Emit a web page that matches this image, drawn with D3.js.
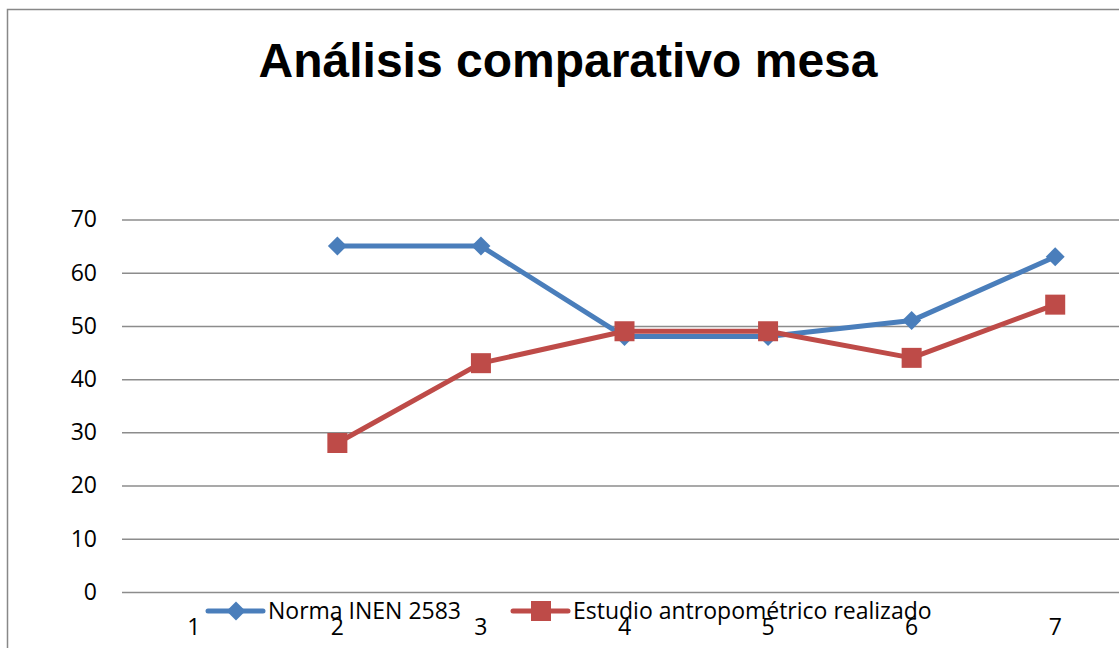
<!DOCTYPE html>
<html><head><meta charset="utf-8">
<script src="https://cdn.jsdelivr.net/npm/d3@7/dist/d3.min.js"></script>
<style>body{margin:0;background:#fff;overflow:hidden}</style>
</head><body>
<svg id="c" width="1119" height="648"></svg>
<script>
const categories = ["1","2","3","4","5","6","7"];
const normaValues = [null, 65, 65, 48, 48, 51, 63];
const estudioValues = [null, 28, 43, 49, 49, 44, 54];
const yTicks = [0,10,20,30,40,50,60,70];
const seriesNames = ["Norma INEN 2583", "Estudio antropométrico realizado"];
const title = "Análisis comparativo mesa";

(function(){
const svg = d3.select("#c");
const font = "'Open Sans', 'Noto Sans', sans-serif";
const fs = 23;
svg.append("rect").attr("x",7.5).attr("y",9.5).attr("width",1130).attr("height",660)
  .attr("fill","#fff").attr("stroke","#888").attr("stroke-width",1.5);

const pl = 122, pr = 1127, pt = 219.5, pb = 592;
const x = d3.scaleBand().domain(categories).range([pl, pr]);
const y = d3.scaleLinear().domain([0,70]).range([pb, pt]);

svg.append("text").attr("x",568).attr("y",77).attr("text-anchor","middle")
  .attr("font-family","'Liberation Sans', Arial, sans-serif").attr("font-weight","bold")
  .attr("font-size",48).attr("fill","#000").text(title);

const yAxis = d3.axisLeft(y).tickValues(yTicks).tickSize(-(pr-pl)).tickPadding(25);
const gy = svg.append("g").attr("transform",`translate(${pl},0)`).call(yAxis);
gy.select(".domain").remove();
gy.selectAll(".tick line").attr("stroke","#8c8c8c").attr("stroke-width",1.5);
gy.selectAll(".tick text").attr("font-family",font).attr("font-size",fs).attr("fill","#000");

const xAxis = d3.axisBottom(x).tickSize(0).tickPadding(27);
const gx = svg.append("g").attr("transform",`translate(0,${pb})`).call(xAxis);
gx.select(".domain").remove();
gx.selectAll(".tick text").attr("font-family",font).attr("font-size",fs).attr("fill","#000");

const cx = d => x(d) + x.bandwidth()/2;
const blue = "#4a7ebb", red = "#be4b48";
const line = d3.line().defined(d => d.v != null).x(d => cx(d.c)).y(d => y(d.v));

function draw(vals, color, shape) {
  const data = categories.map((c,i) => ({c, v: vals[i]}));
  svg.append("path").datum(data).attr("d", line).attr("fill","none")
    .attr("stroke",color).attr("stroke-width",5).attr("stroke-linejoin","round");
  const pts = data.filter(d => d.v != null);
  if (shape === "diamond") {
    svg.selectAll(null).data(pts).enter().append("path")
      .attr("d", d3.symbol().type(d3.symbolSquare).size(180))
      .attr("transform", d => `translate(${cx(d.c)},${y(d.v)}) rotate(45)`)
      .attr("fill", color);
  } else {
    svg.selectAll(null).data(pts).enter().append("rect")
      .attr("x", d => cx(d.c)-10).attr("y", d => y(d.v)-10)
      .attr("width",20).attr("height",20).attr("fill", color);
  }
}
draw(normaValues, blue, "diamond");
draw(estudioValues, red, "square");

function legendItem(x0, color, shape, label) {
  const g = svg.append("g");
  g.append("line").attr("x1",x0).attr("x2",x0+55).attr("y1",611).attr("y2",611)
    .attr("stroke",color).attr("stroke-width",5).attr("stroke-linecap","round");
  if (shape === "diamond") {
    g.append("path").attr("d", d3.symbol().type(d3.symbolSquare).size(180))
      .attr("transform",`translate(${x0+28},611) rotate(45)`).attr("fill",color);
  } else {
    g.append("rect").attr("x",x0+18).attr("y",601).attr("width",20).attr("height",20).attr("fill",color);
  }
  g.append("text").attr("x",x0+60).attr("y",619).attr("font-family",font).attr("font-size",fs)
    .attr("fill","#000").text(label);
}
legendItem(208, blue, "diamond", seriesNames[0]);
legendItem(513, red, "square", seriesNames[1]);
})();
</script>
</body></html>
